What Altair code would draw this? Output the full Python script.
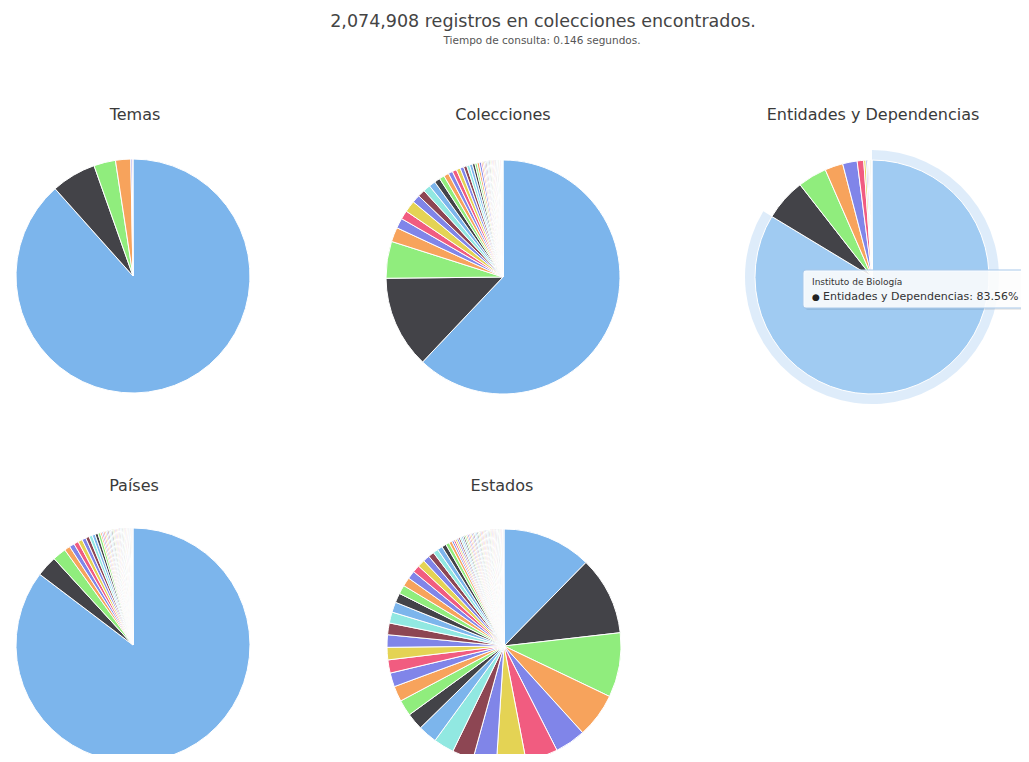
import altair as alt
import pandas as pd

# ---- text ----
titulo = "2,074,908 registros en colecciones encontrados."
subtitulo = "Tiempo de consulta: 0.146 segundos."
titulos_pies = ["Temas", "Colecciones", "Entidades y Dependencias", "Países", "Estados"]
tooltip_header = "Instituto de Biología"
tooltip_body = "Entidades y Dependencias: 83.56%"

# ---- data (percent shares, in slice order) ----
temas = [88.4, 6.2, 3.0, 2.1, 0.2, 0.1]

colecciones = [62.2, 12.8, 5.1,
               2.0, 1.4, 1.2, 1.6, 1.1, 1.0, 1.0, 0.9, 0.8, 0.7, 0.7, 0.6, 0.6,
               0.55, 0.5, 0.45, 0.4, 0.4, 0.35, 0.3, 0.3, 0.3,
               0.2, 0.19, 0.18, 0.17, 0.16, 0.15, 0.15, 0.14, 0.14, 0.13, 0.13,
               0.12, 0.12, 0.11, 0.11, 0.1, 0.1, 0.1, 0.09, 0.09, 0.08, 0.08,
               0.07, 0.07]

entidades = [83.56, 5.8, 4.0, 2.5, 2.0, 0.9,
             0.3, 0.2, 0.15, 0.12, 0.1, 0.1, 0.08, 0.08]

paises = [85.7, 2.9, 1.9,
          0.8, 0.7, 0.65, 0.6, 0.55, 0.5, 0.45, 0.42, 0.4, 0.35,
          0.22, 0.21, 0.2, 0.2, 0.19, 0.18, 0.18, 0.17, 0.17, 0.16, 0.16,
          0.15, 0.15, 0.15, 0.14, 0.14, 0.13, 0.13, 0.13, 0.12, 0.12, 0.12,
          0.11, 0.11, 0.11, 0.1, 0.1, 0.1, 0.1, 0.09, 0.09, 0.09]

estados = [12.2, 10.7, 8.8, 6.1, 4.2, 4.4, 4.0,
           3.2, 2.9, 2.8, 2.6, 2.3, 2.2, 2.1, 1.9, 1.8, 1.7, 1.7,
           1.6, 1.5, 1.4, 1.3, 1.2, 1.2, 1.1, 1.0, 1.0, 0.9, 0.8, 0.7, 0.7,
           0.6, 0.5, 0.4,
           0.26, 0.25, 0.24, 0.24, 0.23, 0.22, 0.22, 0.21, 0.21, 0.2, 0.2,
           0.19, 0.19, 0.19, 0.18, 0.18, 0.18, 0.17, 0.17, 0.17, 0.16, 0.16,
           0.16, 0.15, 0.15, 0.15, 0.15, 0.14, 0.14, 0.14, 0.14, 0.13, 0.13,
           0.13, 0.13, 0.12, 0.12, 0.12, 0.12, 0.11, 0.11, 0.11, 0.1, 0.1]

# ---- style ----
PALETTE = ['#7cb5ec', '#434348', '#90ed7d', '#f7a35c', '#8085e9',
           '#f15c80', '#e4d354', '#8085e8', '#8d4653', '#91e8e1']
HOVER_COLOR = "#a0cbf2"
R = 117
FONT = "DejaVu Sans"
W, H = 1013, 746

CENTERS = [(125, 268), (495, 269), (864, 269), (125, 637), (496, 638)]
TITLE_POS = [(127, 107), (495, 107), (865, 107), (126, 478), (494, 478)]


def frame(values, highlight_first=False):
    rows = []
    for k, v in enumerate(values):
        c = PALETTE[k % len(PALETTE)]
        if highlight_first and k == 0:
            c = HOVER_COLOR
        rows.append({"i": k, "v": v, "c": c, "h": 0.25 if k == 0 else 0.0})
    return pd.DataFrame(rows)


def pie(df, cx, cy):
    return alt.Chart(df).mark_arc(radius=R, stroke="white", strokeWidth=1).encode(
        theta=alt.Theta("v:Q", stack=True),
        color=alt.Color("c:N", scale=None),
        order=alt.Order("i:Q"),
        x=alt.value(cx),
        y=alt.value(cy),
    )


def text(t, x, y, size, color="#333333", align="center"):
    return alt.Chart(pd.DataFrame({"t": [t]})).mark_text(
        font=FONT, fontSize=size, color=color, align=align, baseline="middle"
    ).encode(text="t:N", x=alt.value(x), y=alt.value(y))


series = [temas, colecciones, entidades, paises, estados]
layers = []

# halo behind the hovered slice of "Entidades y Dependencias"
ent_df = frame(entidades, highlight_first=True)
halo = alt.Chart(frame(entidades)).mark_arc(radius=R + 10, radius2=R).encode(
    theta=alt.Theta("v:Q", stack=True),
    color=alt.Color("c:N", scale=None),
    opacity=alt.Opacity("h:Q", scale=None),
    order=alt.Order("i:Q"),
    x=alt.value(CENTERS[2][0]),
    y=alt.value(CENTERS[2][1]),
)
layers.append(halo)

for k, vals in enumerate(series):
    df = ent_df if k == 2 else frame(vals)
    layers.append(pie(df, *CENTERS[k]))
    layers.append(text(titulos_pies[k], TITLE_POS[k][0], TITLE_POS[k][1], 16, "#3a3a3a"))

layers.append(text(titulo, 535, 14, 17.5, "#444444"))
layers.append(text(subtitulo, 534, 33, 10.5, "#555555"))

# tooltip box
box = pd.DataFrame({"a": [0]})
layers.append(alt.Chart(box).mark_rect(fill="#000000", opacity=0.08, cornerRadius=3).encode(
    x=alt.value(797), x2=alt.value(1030), y=alt.value(264), y2=alt.value(302)))
layers.append(alt.Chart(box).mark_rect(fill="white", fillOpacity=0.88, stroke="#a9c9ea",
                                       strokeWidth=1, cornerRadius=3).encode(
    x=alt.value(795), x2=alt.value(1030), y=alt.value(262), y2=alt.value(300)))
layers.append(text(tooltip_header, 804, 274, 9, "#333333", "left"))
layers.append(text("\u25CF", 804, 289, 9, "#222222", "left"))
layers.append(text(tooltip_body, 815, 289, 11, "#333333", "left"))

chart = alt.layer(*layers).resolve_scale(theta="independent").properties(
    width=W, height=H, autosize=alt.AutoSizeParams(type="none"), padding=0
).configure_view(stroke=None)

chart.save("out.html", embed_options={"renderer": "svg", "actions": False})
